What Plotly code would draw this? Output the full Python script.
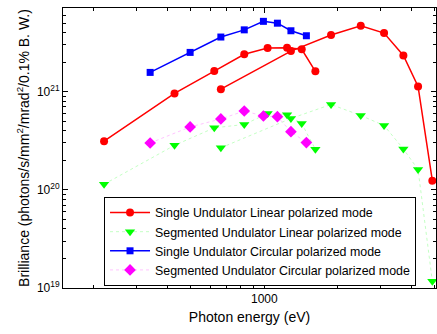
import plotly.graph_objects as go

# Single Undulator Linear polarized mode (two harmonic branches)
red_x1 = [220, 428, 623, 827, 1031, 1239, 1423, 1619]
red_y1 = [3.13e20, 9.6e20, 1.62e21, 2.40e21, 2.78e21, 2.80e21, 2.70e21, 1.61e21]
red_x2 = [663, 1285, 1877, 2485, 3097, 3717, 4270, 4887]
red_y2 = [1.06e21, 2.59e21, 3.77e21, 4.69e21, 3.95e21, 2.34e21, 1.13e21, 1.24e20]

# Segmented Undulator Linear polarized mode
grn_x1 = [220, 428, 623, 827, 1031, 1239, 1423, 1619]
grn_y1 = [1.14e20, 2.84e20, 4.28e20, 4.63e20, 6.0e20, 5.82e20, 4.74e20, 2.59e20]
grn_x2 = [663, 1285, 1877, 2485, 3097, 3717, 4270, 4887]
grn_y2 = [2.68e20, 5.33e20, 7.40e20, 5.72e20, 4.52e20, 2.61e20, 1.61e20, 1.17e19]

# Single Undulator Circular polarized mode
blu_x = [340, 496, 663, 827, 991, 1131, 1285, 1487]
blu_y = [1.57e21, 2.51e21, 3.60e21, 4.26e21, 5.20e21, 4.98e21, 4.17e21, 3.71e21]

# Segmented Undulator Circular polarized mode
mag_x = [340, 496, 663, 827, 991, 1131, 1285, 1487]
mag_y = [3.0e20, 4.37e20, 5.27e20, 6.35e20, 5.65e20, 5.56e20, 3.91e20, 3.03e20]

names = [
    "Single Undulator Linear polarized mode",
    "Segmented Undulator Linear polarized mode",
    "Single Undulator Circular polarized mode",
    "Segmented Undulator Circular polarized mode",
]

x_major = [1000]
x_minor = [200, 300, 400, 500, 600, 700, 800, 900, 2000, 3000, 4000, 5000]
y_major = [1e19, 1e20, 1e21]
y_labels = ["10<sup>19</sup>", "10<sup>20</sup>", "10<sup>21</sup>"]
y_minor = [float(m) * 10.0 ** e for e in (19, 20, 21) for m in range(2, 10)]

FONT = "Liberation Sans, Arial, Helvetica, sans-serif"

fig = go.Figure()

red = dict(mode="lines+markers", line=dict(color="#ff0000", width=1.5),
           marker=dict(symbol="circle", size=8, color="#ff0000"))
grn = dict(mode="lines+markers", line=dict(color="#c4ffc4", width=1, dash="dot"),
           marker=dict(symbol="triangle-down", size=9, color="#00ff00"))
blu = dict(mode="lines+markers", line=dict(color="#0000ff", width=1.5),
           marker=dict(symbol="square", size=7, color="#0000ff"))
mag = dict(mode="lines+markers", line=dict(color="#ffc4ff", width=1, dash="dot"),
           marker=dict(symbol="diamond", size=9, color="#ff00ff"))

fig.add_trace(go.Scatter(x=red_x1, y=red_y1, name=names[0], legendgroup="r", **red))
fig.add_trace(go.Scatter(x=red_x2, y=red_y2, name=names[0], legendgroup="r", showlegend=False, **red))
fig.add_trace(go.Scatter(x=grn_x1, y=grn_y1, name=names[1], legendgroup="g", **grn))
fig.add_trace(go.Scatter(x=grn_x2, y=grn_y2, name=names[1], legendgroup="g", showlegend=False, **grn))
fig.add_trace(go.Scatter(x=blu_x, y=blu_y, name=names[2], legendgroup="b", **blu))
fig.add_trace(go.Scatter(x=mag_x, y=mag_y, name=names[3], legendgroup="m", **mag))

fig.update_layout(
    width=437, height=334,
    margin=dict(l=63, r=1, t=8, b=46),
    paper_bgcolor="white", plot_bgcolor="white",
    font=dict(family=FONT, size=12, color="black"),
    showlegend=True,
    legend=dict(x=0.11, y=0.325, xanchor="left", yanchor="top",
                bgcolor="white", bordercolor="black", borderwidth=1,
                font=dict(family=FONT, size=12.4, color="black"),
                itemwidth=40,
                tracegroupgap=0, traceorder="normal"),
)

fig.update_xaxes(
    type="log", range=[2.174, 3.704],
    tickmode="array", tickvals=x_major, ticktext=["1000"],
    ticks="inside", ticklen=5, tickcolor="black",
    minor=dict(tickmode="array", tickvals=x_minor, ticks="inside", ticklen=3, tickcolor="black"),
    showline=True, linecolor="black", linewidth=1, mirror="ticks",
    showgrid=False, zeroline=False,
    tickfont=dict(family=FONT, size=12),
    title=dict(text="Photon energy (eV)", font=dict(family=FONT, size=14), standoff=6),
)
fig.update_yaxes(
    type="log", range=[19, 21.852],
    tickmode="array", tickvals=y_major, ticktext=y_labels,
    ticks="inside", ticklen=5, tickcolor="black",
    minor=dict(tickmode="array", tickvals=y_minor, ticks="inside", ticklen=3, tickcolor="black"),
    showline=True, linecolor="black", linewidth=1, mirror="ticks",
    showgrid=False, zeroline=False,
    tickfont=dict(family=FONT, size=12),
    title=dict(text="Brilliance (photons/s/mm<sup>2</sup>/mrad<sup>2</sup>/0.1% B. W.)",
               font=dict(family=FONT, size=14), standoff=4),
)

fig.write_html("out.html")
